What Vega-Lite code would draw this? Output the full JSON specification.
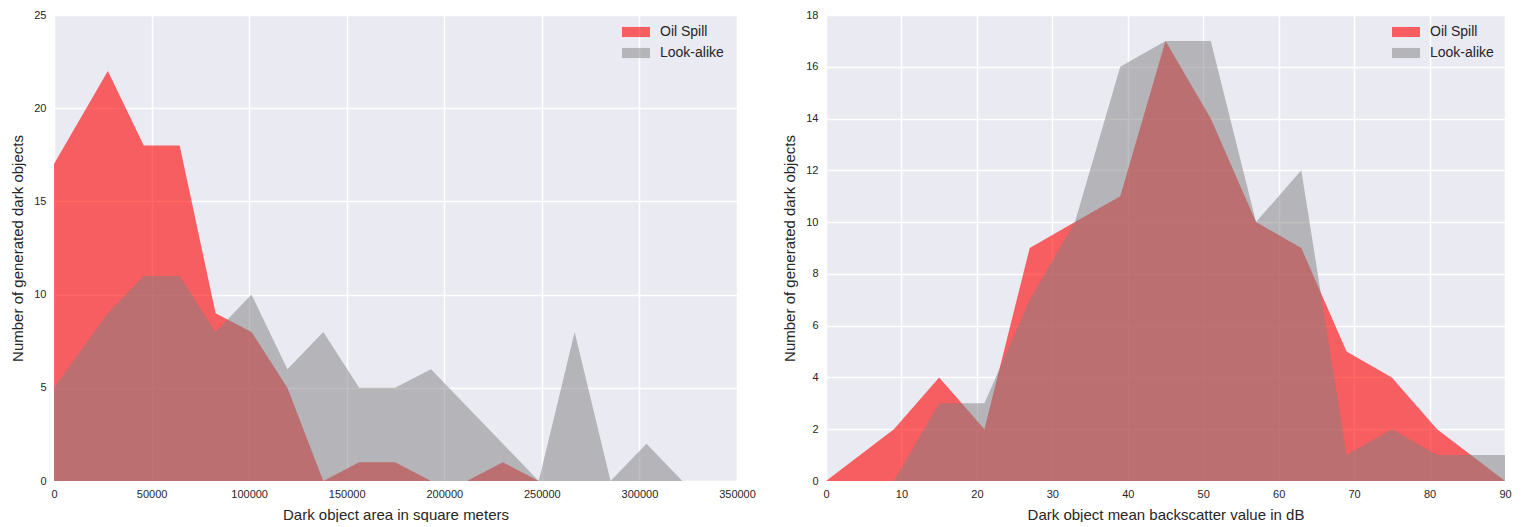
{
  "$schema": "https://vega.github.io/schema/vega-lite/v6.json",
  "padding": {"left": 10, "top": 9, "right": 0, "bottom": 0},
  "background": "white",
  "datasets": {
    "area": [
      {"x": 0, "count": 17, "type": "Oil Spill"},
      {"x": 27600, "count": 22, "type": "Oil Spill"},
      {"x": 46000, "count": 18, "type": "Oil Spill"},
      {"x": 64400, "count": 18, "type": "Oil Spill"},
      {"x": 82800, "count": 9, "type": "Oil Spill"},
      {"x": 101200, "count": 8, "type": "Oil Spill"},
      {"x": 119600, "count": 5, "type": "Oil Spill"},
      {"x": 138000, "count": 0, "type": "Oil Spill"},
      {"x": 156400, "count": 1, "type": "Oil Spill"},
      {"x": 174800, "count": 1, "type": "Oil Spill"},
      {"x": 193200, "count": 0, "type": "Oil Spill"},
      {"x": 211600, "count": 0, "type": "Oil Spill"},
      {"x": 230000, "count": 1, "type": "Oil Spill"},
      {"x": 248400, "count": 0, "type": "Oil Spill"},
      {"x": 266800, "count": 0, "type": "Oil Spill"},
      {"x": 285200, "count": 0, "type": "Oil Spill"},
      {"x": 303600, "count": 0, "type": "Oil Spill"},
      {"x": 322000, "count": 0, "type": "Oil Spill"},
      {"x": 340400, "count": 0, "type": "Oil Spill"},
      {"x": 350000, "count": 0, "type": "Oil Spill"},
      {"x": 0, "count": 5, "type": "Look-alike"},
      {"x": 27600, "count": 9, "type": "Look-alike"},
      {"x": 46000, "count": 11, "type": "Look-alike"},
      {"x": 64400, "count": 11, "type": "Look-alike"},
      {"x": 82800, "count": 8, "type": "Look-alike"},
      {"x": 101200, "count": 10, "type": "Look-alike"},
      {"x": 119600, "count": 6, "type": "Look-alike"},
      {"x": 138000, "count": 8, "type": "Look-alike"},
      {"x": 156400, "count": 5, "type": "Look-alike"},
      {"x": 174800, "count": 5, "type": "Look-alike"},
      {"x": 193200, "count": 6, "type": "Look-alike"},
      {"x": 211600, "count": 4, "type": "Look-alike"},
      {"x": 230000, "count": 2, "type": "Look-alike"},
      {"x": 248400, "count": 0, "type": "Look-alike"},
      {"x": 266800, "count": 8, "type": "Look-alike"},
      {"x": 285200, "count": 0, "type": "Look-alike"},
      {"x": 303600, "count": 2, "type": "Look-alike"},
      {"x": 322000, "count": 0, "type": "Look-alike"},
      {"x": 340400, "count": 0, "type": "Look-alike"},
      {"x": 350000, "count": 0, "type": "Look-alike"}
    ],
    "db": [
      {"x": 0, "count": 0, "type": "Oil Spill"},
      {"x": 9, "count": 2, "type": "Oil Spill"},
      {"x": 15, "count": 4, "type": "Oil Spill"},
      {"x": 21, "count": 2, "type": "Oil Spill"},
      {"x": 27, "count": 9, "type": "Oil Spill"},
      {"x": 33, "count": 10, "type": "Oil Spill"},
      {"x": 39, "count": 11, "type": "Oil Spill"},
      {"x": 45, "count": 17, "type": "Oil Spill"},
      {"x": 51, "count": 14, "type": "Oil Spill"},
      {"x": 57, "count": 10, "type": "Oil Spill"},
      {"x": 63, "count": 9, "type": "Oil Spill"},
      {"x": 69, "count": 5, "type": "Oil Spill"},
      {"x": 75, "count": 4, "type": "Oil Spill"},
      {"x": 81, "count": 2, "type": "Oil Spill"},
      {"x": 90, "count": 0, "type": "Oil Spill"},
      {"x": 0, "count": 0, "type": "Look-alike"},
      {"x": 9, "count": 0, "type": "Look-alike"},
      {"x": 15, "count": 3, "type": "Look-alike"},
      {"x": 21, "count": 3, "type": "Look-alike"},
      {"x": 27, "count": 7, "type": "Look-alike"},
      {"x": 33, "count": 10, "type": "Look-alike"},
      {"x": 39, "count": 16, "type": "Look-alike"},
      {"x": 45, "count": 17, "type": "Look-alike"},
      {"x": 51, "count": 17, "type": "Look-alike"},
      {"x": 57, "count": 10, "type": "Look-alike"},
      {"x": 63, "count": 12, "type": "Look-alike"},
      {"x": 69, "count": 1, "type": "Look-alike"},
      {"x": 75, "count": 2, "type": "Look-alike"},
      {"x": 81, "count": 1, "type": "Look-alike"},
      {"x": 87, "count": 1, "type": "Look-alike"},
      {"x": 90, "count": 1, "type": "Look-alike"}
    ]
  },
  "spacing": 89,
  "bounds": "flush",
  "resolve": {
    "scale": {"x": "independent", "y": "independent"},
    "legend": {"color": "independent", "opacity": "independent"}
  },
  "hconcat": [
    {
      "width": 683,
      "height": 466,
      "data": {"name": "area"},
      "mark": {"type": "area", "interpolate": "linear"},
      "encoding": {
        "x": {"field": "x", "type": "quantitative",
          "scale": {"domain": [0, 350000], "nice": false, "zero": false},
          "axis": {"values": [0, 50000, 100000, 150000, 200000, 250000, 300000, 350000], "format": "d", "title": "Dark object area in square meters"}},
        "y": {"field": "count", "type": "quantitative", "stack": null,
          "scale": {"domain": [0, 25], "nice": false},
          "axis": {"values": [0, 5, 10, 15, 20, 25], "title": "Number of generated dark objects"}},
        "color": {"field": "type", "type": "nominal",
          "scale": {"domain": ["Oil Spill", "Look-alike"], "range": ["#FF0000", "#808080"]},
          "legend": {"orient": "none", "legendX": 568, "legendY": 3, "title": null}},
        "opacity": {"field": "type", "type": "nominal",
          "scale": {"domain": ["Oil Spill", "Look-alike"], "range": [0.6, 0.5]},
          "legend": {"orient": "none", "legendX": 568, "legendY": 3, "title": null}}
      }
    },
    {
      "width": 679,
      "height": 466,
      "data": {"name": "db"},
      "mark": {"type": "area", "interpolate": "linear"},
      "encoding": {
        "x": {"field": "x", "type": "quantitative",
          "scale": {"domain": [0, 90], "nice": false, "zero": false},
          "axis": {"values": [0, 10, 20, 30, 40, 50, 60, 70, 80, 90], "format": "d", "title": "Dark object mean backscatter value in dB"}},
        "y": {"field": "count", "type": "quantitative", "stack": null,
          "scale": {"domain": [0, 18], "nice": false},
          "axis": {"values": [0, 2, 4, 6, 8, 10, 12, 14, 16, 18], "title": "Number of generated dark objects"}},
        "color": {"field": "type", "type": "nominal",
          "scale": {"domain": ["Oil Spill", "Look-alike"], "range": ["#FF0000", "#808080"]},
          "legend": {"orient": "none", "legendX": 566, "legendY": 3, "title": null}},
        "opacity": {"field": "type", "type": "nominal",
          "scale": {"domain": ["Oil Spill", "Look-alike"], "range": [0.6, 0.5]},
          "legend": {"orient": "none", "legendX": 566, "legendY": 3, "title": null}}
      }
    }
  ],
  "config": {
    "view": {"fill": "#EAEAF2", "stroke": null},
    "axis": {
      "domain": false, "ticks": false,
      "gridColor": "#FFFFFF", "gridWidth": 1.5, "gridOpacity": 1,
      "labelFont": "Liberation Sans", "labelFontSize": 11, "labelColor": "#262626",
      "titleFont": "Liberation Sans", "titleFontSize": 15, "titleFontWeight": "normal", "titleColor": "#262626",
      "labelFlush": false, "labelOverlap": false
    },
    "axisX": {"labelPadding": 7, "titlePadding": 8},
    "axisY": {"labelPadding": 8, "titlePadding": 8},
    "legend": {
      "symbolType": "M-1,-0.36H1V0.36H-1Z",
      "symbolSize": 784,
      "symbolStrokeWidth": 0,
      "labelFont": "Liberation Sans", "labelFontSize": 14, "labelColor": "#262626",
      "labelOffset": 10,
      "rowPadding": -1.5,
      "padding": 0
    }
  }
}
